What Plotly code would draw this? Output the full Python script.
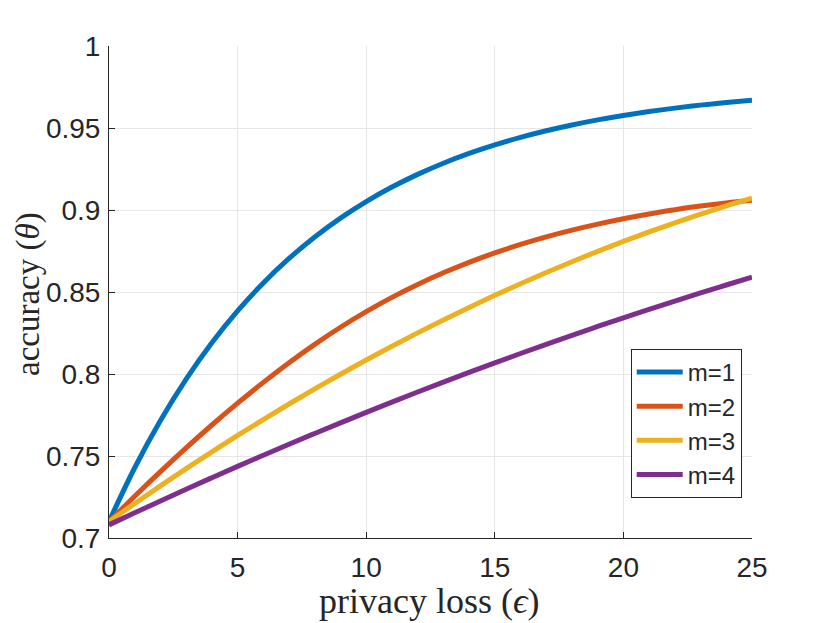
import plotly.graph_objects as go

# privacy loss epsilon, read at every integer
eps = list(range(0, 26))

acc_m1 = [0.71000, 0.74284, 0.77164, 0.79690, 0.81905, 0.83848, 0.85552, 0.87046, 0.88357,
          0.89506, 0.90514, 0.91398, 0.92173, 0.92853, 0.93449, 0.93972, 0.94430, 0.94832,
          0.95185, 0.95495, 0.95766, 0.96004, 0.96212, 0.96395, 0.96556, 0.96697]
acc_m2 = [0.7100, 0.7255, 0.7405, 0.7550, 0.7689, 0.7822, 0.7949, 0.8069, 0.8181,
          0.8285, 0.8380, 0.8467, 0.8546, 0.8617, 0.8681, 0.8739, 0.8790, 0.8836,
          0.8877, 0.8914, 0.8947, 0.8976, 0.9002, 0.9024, 0.9043, 0.9059]
acc_m3 = [0.71000, 0.72103, 0.73179, 0.74229, 0.75254, 0.76252, 0.77224, 0.78170, 0.79089,
          0.79983, 0.80850, 0.81691, 0.82506, 0.83295, 0.84058, 0.84795, 0.85506, 0.86190,
          0.86848, 0.87481, 0.88087, 0.88667, 0.89220, 0.89748, 0.90250, 0.90725]
acc_m4 = [0.70800, 0.71535, 0.72260, 0.72973, 0.73675, 0.74367, 0.75047, 0.75717, 0.76375,
          0.77023, 0.77660, 0.78286, 0.78901, 0.79505, 0.80098, 0.80680, 0.81251, 0.81811,
          0.82360, 0.82898, 0.83426, 0.83943, 0.84449, 0.84943, 0.85427, 0.85900]

names = ["m=1", "m=2", "m=3", "m=4"]
colors = ["#0072BD", "#D95319", "#EDB120", "#7E2F8E"]

x_ticks = [0, 5, 10, 15, 20, 25]
y_ticks = [0.7, 0.75, 0.8, 0.85, 0.9, 0.95, 1.0]
y_ticktext = ["0.7", "0.75", "0.8", "0.85", "0.9", "0.95", "1"]

x_label = "privacy loss (<i>ϵ</i>)"
y_label = "accuracy (<i>θ</i>)"

fig = go.Figure()
for name, ys, col in zip(names, [acc_m1, acc_m2, acc_m3, acc_m4], colors):
    fig.add_trace(go.Scatter(x=eps, y=ys, mode="lines", name=name,
                             line=dict(color=col, width=5, shape="spline")))

axis_common = dict(
    showline=True, linecolor="#262626", linewidth=1,
    ticks="inside", ticklen=6, tickcolor="#262626",
    showgrid=True, gridcolor="#e6e6e6", gridwidth=1,
    zeroline=False, mirror=False, automargin=False,
    tickfont=dict(family="Liberation Sans, Arial", size=28, color="#262626"),
)

fig.update_xaxes(range=[0, 25], tickvals=x_ticks, ticklabelstandoff=4, **axis_common)
fig.update_yaxes(range=[0.7, 1.0], tickvals=y_ticks, ticktext=y_ticktext,
                 ticklabelstandoff=2, **axis_common)

# axis titles placed as annotations (LaTeX-like serif labels)
fig.add_annotation(text=x_label, xref="paper", yref="paper", x=0.4977, y=0,
                   xanchor="center", yanchor="middle", yshift=-63, showarrow=False,
                   font=dict(family="Liberation Serif, serif", size=36, color="#262626"))
fig.add_annotation(text=y_label, xref="paper", yref="paper", x=0, y=0.496,
                   xanchor="center", yanchor="middle", xshift=-80, textangle=-90,
                   showarrow=False,
                   font=dict(family="Liberation Serif, serif", size=33, color="#262626"))

fig.update_layout(
    width=830, height=623,
    margin=dict(l=101, r=86, t=38, b=93),
    plot_bgcolor="white", paper_bgcolor="white",
    legend=dict(x=0.984, y=0.233, xanchor="right", yanchor="middle",
                bgcolor="white", bordercolor="#262626", borderwidth=1,
                itemwidth=46,
                font=dict(family="Liberation Sans, Arial", size=24, color="#262626"),
                tracegroupgap=0),
)

fig.write_html("out.html")
